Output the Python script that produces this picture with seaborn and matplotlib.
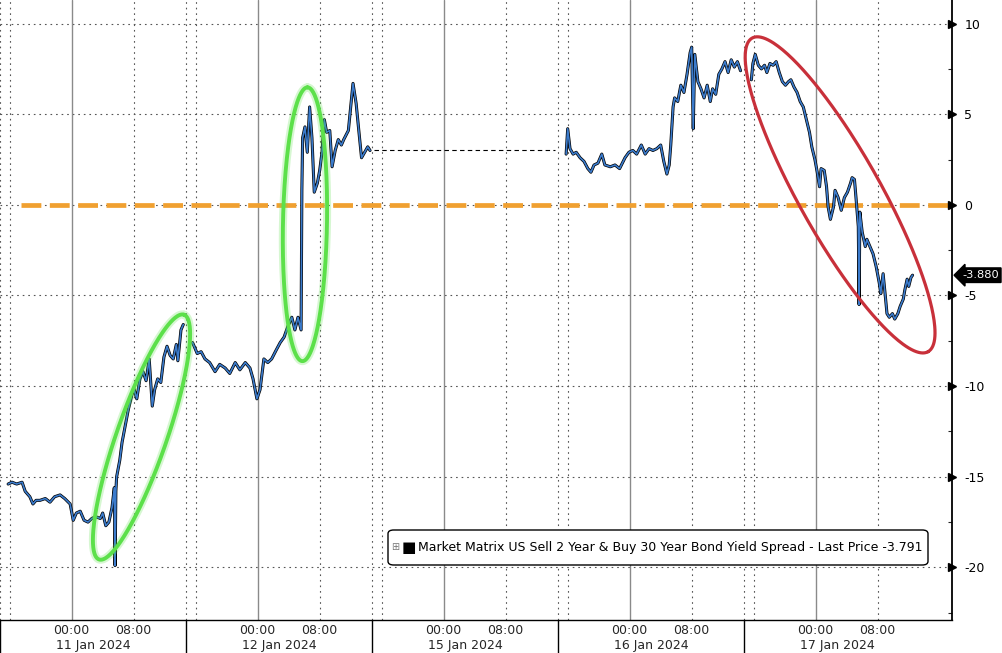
import numpy as np
import pandas as pd
import matplotlib
matplotlib.use("Agg")
import matplotlib.pyplot as plt
from matplotlib.patches import FancyBboxPatch
import seaborn as sns

# trading sessions on a compressed axis, 15 Jan (MLK day) has no prints
sessions = ["11 Jan 2024", "12 Jan 2024", "15 Jan 2024", "16 Jan 2024", "17 Jan 2024"]
SESSION_LEN = 24.0
MIDNIGHT = 9.25  # session opens ~14:45 the evening before

# hours from midnight / spread (bp)
jan11_t = [-8.2, -7.7, -7.1, -6.4, -6.0, -5.4, -5.0, -4.6, -4.1, -3.4, -2.8, -2.2, -1.5, -0.9,
           -0.2, 0.2, 0.6, 1.1, 1.6, 2.1, 2.6, 3.1, 3.7, 4.0, 4.4, 4.8, 5.2, 5.5, 5.6, 5.7,
           5.8, 6.2, 6.5, 6.9, 7.3, 7.7, 8.0, 8.4, 8.8, 9.2, 9.6, 10.0, 10.4, 10.7, 11.1,
           11.5, 11.9, 12.3, 12.7, 13.1, 13.5, 13.7, 14.1, 14.4]
jan11_v = [-15.4, -15.3, -15.4, -15.3, -15.8, -16.1, -16.5, -16.3, -16.3, -16.2, -16.4, -16.1,
           -16.0, -16.2, -16.5, -17.4, -17.0, -16.9, -17.4, -17.5, -17.3, -17.2, -17.3, -17.0,
           -17.7, -17.5, -16.7, -15.6, -19.9, -15.8, -15.0, -14.1, -13.1, -12.2, -11.3, -10.6,
           -10.1, -10.7, -9.6, -9.2, -9.7, -8.5, -11.1, -10.2, -9.6, -9.8, -8.4, -7.8, -8.3,
           -8.5, -7.7, -8.6, -6.9, -6.6]

jan12_t = [-8.4, -7.8, -7.3, -6.8, -6.2, -5.5, -4.9, -4.2, -3.6, -2.9, -2.3, -1.6, -1.0, -0.6,
           -0.1, 0.3, 0.8, 1.3, 1.8, 2.4, 2.9, 3.4, 3.9, 4.4, 4.8, 5.2, 5.6, 5.7, 5.8, 6.1,
           6.4, 6.7, 7.0, 7.3, 7.7, 8.0, 8.3, 8.6, 8.9, 9.3, 9.6, 10.0, 10.4, 10.8, 11.1,
           11.7, 12.0, 12.3, 12.7, 13.0, 13.4, 13.8, 14.2, 14.5]
jan12_v = [-7.6, -8.2, -8.1, -8.5, -8.7, -9.2, -8.8, -9.0, -9.3, -8.7, -9.1, -8.7, -9.0, -9.6,
           -10.7, -10.2, -8.5, -8.7, -8.5, -8.0, -7.6, -7.3, -6.7, -6.2, -6.9, -6.2, -6.9,
           0.8, 3.7, 4.3, 2.9, 5.4, 3.7, 0.7, 1.2, 1.9, 2.9, 4.7, 4.0, 4.1, 2.1, 3.0, 3.6,
           3.3, 3.6, 4.1, 5.4, 6.7, 5.6, 4.3, 2.6, 2.9, 3.2, 3.0]

jan16_t = [-8.2, -8.0, -7.7, -7.3, -6.9, -6.4, -5.9, -5.4, -5.0, -4.6, -4.1, -3.6, -3.2, -2.5,
           -1.9, -1.3, -0.6, -0.1, 0.4, 0.9, 1.5, 2.0, 2.5, 3.0, 3.5, 4.0, 4.4, 4.8, 5.1,
           5.3, 5.6, 5.8, 6.2, 6.6, 7.0, 7.4, 7.8, 8.0, 8.2, 8.4, 8.8, 9.2, 9.6, 10.0, 10.4,
           10.7, 11.1, 11.5, 11.9, 12.3, 12.7, 13.1, 13.5, 13.9, 14.3]
jan16_v = [2.8, 4.2, 3.1, 2.8, 2.9, 2.6, 2.4, 2.0, 1.8, 2.2, 2.3, 2.8, 2.2, 2.1, 2.2, 2.0, 2.6,
           2.9, 3.0, 2.8, 3.3, 2.8, 3.1, 3.0, 3.1, 3.3, 2.4, 1.7, 2.2, 3.3, 5.4, 5.9, 5.7,
           6.6, 6.2, 7.2, 8.4, 8.7, 4.2, 8.3, 6.8, 6.4, 5.9, 6.6, 5.7, 6.4, 6.1, 7.2, 7.5,
           7.9, 7.3, 8.0, 7.6, 7.9, 7.4]

jan17_t = [-8.3, -8.1, -7.8, -7.4, -7.0, -6.6, -6.3, -5.9, -5.5, -5.1, -4.7, -4.3, -3.9, -3.5,
           -3.2, -2.8, -2.4, -2.0, -1.6, -1.2, -0.8, -0.5, -0.1, 0.2, 0.5, 0.7, 1.1, 1.4,
           1.6, 1.9, 2.3, 2.5, 2.9, 3.3, 3.7, 4.1, 4.5, 4.7, 5.0, 5.2, 5.5, 5.6, 5.7, 6.0,
           6.4, 6.6, 7.0, 7.4, 7.8, 8.2, 8.4, 8.7, 9.0, 9.2, 9.5, 9.9, 10.2, 10.6, 10.9,
           11.3, 11.5, 11.8, 12.0, 12.3, 12.5]
jan17_v = [6.9, 7.8, 8.3, 7.7, 7.5, 7.7, 7.3, 7.8, 7.7, 7.9, 7.3, 6.8, 6.6, 6.8, 6.9, 6.5, 6.2,
           5.7, 5.4, 4.7, 4.0, 3.2, 2.5, 1.8, 1.0, 2.0, 1.9, 1.0, -0.1, -0.8, -0.1, 0.8, 0.4,
           -0.3, 0.4, 0.7, 1.2, 1.5, 1.4, 0.4, -1.2, -5.5, -0.4, -1.5, -2.3, -1.9, -2.3,
           -2.7, -3.4, -4.3, -4.9, -3.8, -5.1, -6.0, -6.2, -6.0, -6.3, -6.0, -5.6, -5.2,
           -4.7, -4.1, -4.5, -4.0, -3.88]

legend_label = "Market Matrix US Sell 2 Year & Buy 30 Year Bond Yield Spread - Last Price -3.791"

# highlight rings: centre, two semi-axes (axis hours, bp)
ring_green1 = ((18.26, -12.81), (5.48, 6.75), (3.05, -0.45))
ring_green2 = ((39.35, -1.07), (0.32, 7.55), (2.84, 0.0))
ring_red = ((108.4, 0.55), (11.35, -8.65), (4.6, 1.1))

yticks = [-20, -15, -10, -5, 0, 5, 10]

frames = []
for name, t, v in [("11 Jan 2024", jan11_t, jan11_v), ("12 Jan 2024", jan12_t, jan12_v),
                   ("16 Jan 2024", jan16_t, jan16_v), ("17 Jan 2024", jan17_t, jan17_v)]:
    k = sessions.index(name)
    frames.append(pd.DataFrame({"pos": k * SESSION_LEN + MIDNIGHT + np.asarray(t),
                                "spread": v, "session": name}))
df = pd.concat(frames, ignore_index=True)

sns.set_style("white")
plt.rcParams["font.family"] = ["DejaVu Sans"]

fig = plt.figure(figsize=(10.03, 6.53), dpi=100)
ax = fig.add_axes([0, 33 / 653, 952 / 1003, 620 / 653])

xmax = 952 / 7.75
ax.set_xlim(0, xmax)
ax.set_ylim(-22.9, 11.3)

# grid
for y in yticks:
    ax.axhline(y, color="#555555", lw=0.8, ls=(0, (1.5, 3.5)), zorder=0)
for k in range(len(sessions)):
    base = k * SESSION_LEN
    ax.axvline(base + MIDNIGHT, color="#8a8a8a", lw=1.0, zorder=0)
    for h in (0.0, MIDNIGHT - 8.0, MIDNIGHT + 8.0):
        ax.axvline(base + h, color="#555555", lw=0.8, ls=(0, (1.5, 3.5)), zorder=0)
    ax.axvline(base, ymin=-33 / 620, ymax=0, color="black", lw=1.0, clip_on=False)

# zero line
ax.axhline(0, xmin=0.022, color="#f0a030", lw=3.4, ls=(0, (4.2, 1.8)), zorder=2, clip_on=False)

# gap connector across the holiday
g12 = df[df.session == "12 Jan 2024"]
g16 = df[df.session == "16 Jan 2024"]
ax.plot([g12.pos.iloc[-1] + 0.5, g16.pos.iloc[0] - 1.5], [g12.spread.iloc[-1]] * 2,
        color="black", lw=0.8, ls=(0, (4, 3)), zorder=2)

# series: black body under blue line
sns.lineplot(data=df, x="pos", y="spread", units="session", estimator=None,
             color="black", lw=2.2, ax=ax, zorder=3, legend=False)
sns.lineplot(data=df, x="pos", y="spread", units="session", estimator=None,
             color="#3b7bcc", lw=1.2, ax=ax, zorder=4, legend=False)


def ring(params, color, lw, glow=False):
    (cx, cy), a1, a2 = params
    tt = np.linspace(0, 2 * np.pi, 300)
    xs = cx + a1[0] * np.cos(tt) + a2[0] * np.sin(tt)
    ys = cy + a1[1] * np.cos(tt) + a2[1] * np.sin(tt)
    if glow:
        ax.plot(xs, ys, color=color, lw=lw + 3, alpha=0.25, zorder=5, solid_capstyle="round")
    ax.plot(xs, ys, color=color, lw=lw, zorder=6)


ring(ring_green1, "#5ce04a", 2.8, glow=True)
ring(ring_green2, "#5ce04a", 2.8, glow=True)
ring(ring_red, "#c8303a", 2.3)

# axes styling
ax.set_xlabel("")
ax.set_ylabel("")
for s in ("top", "left"):
    ax.spines[s].set_visible(False)
ax.spines["bottom"].set_color("black")
ax.spines["bottom"].set_linewidth(1.0)
ax.spines["right"].set_color("black")
ax.spines["right"].set_linewidth(1.3)

ax.yaxis.tick_right()
ax.set_yticks(yticks)
ax.set_yticklabels([str(y) for y in yticks])
ax.set_yticks(np.arange(-22.5, 11.3, 2.5), minor=True)
ax.tick_params(axis="y", which="major", length=0, pad=9, labelsize=9, colors="black")
ax.tick_params(axis="y", which="minor", length=3, direction="in", width=0.8)
ax.plot([1.0] * len(yticks), yticks, ls="none", marker=">", ms=6, color="black",
        transform=ax.get_yaxis_transform(), clip_on=False, zorder=7)

major_x, major_lab, minor_x = [], [], []
for k in range(len(sessions)):
    base = k * SESSION_LEN + MIDNIGHT
    major_x += [base, base + 8]
    major_lab += ["00:00", "08:00"]
    minor_x += [base + h for h in (-8, -4, 4, 12)]
ax.set_xticks(major_x)
ax.set_xticklabels(major_lab)
ax.set_xticks(minor_x, minor=True)
ax.tick_params(axis="x", which="major", length=0, labelsize=9, pad=3)
ax.tick_params(axis="x", which="minor", length=5, direction="out", width=0.8)

for k, name in enumerate(sessions):
    ax.annotate(name, xy=(k * SESSION_LEN + MIDNIGHT, 0), xycoords=("data", "axes fraction"),
                xytext=(-16, -26), textcoords="offset pixels", ha="left", va="center", fontsize=9)

# last price tag
last = df.spread.iloc[-1]
ax.annotate(f"{last:.3f}", xy=(1.0, last), xycoords=("axes fraction", "data"),
            xytext=(10, 0), textcoords="offset pixels", ha="left", va="center",
            fontsize=8.2, color="white", annotation_clip=False,
            bbox=dict(boxstyle="larrow,pad=0.2", fc="black", ec="black"))

# legend box
box = FancyBboxPatch((388 / 952, 55 / 620), 540 / 952, 35 / 620,
                     boxstyle="round,pad=0,rounding_size=0.006", transform=ax.transAxes,
                     fc="white", ec="black", lw=1.0, zorder=8)
ax.add_patch(box)
ax.text(391 / 952, 72.5 / 620, "\u229e", transform=ax.transAxes, fontsize=7, color="#777777",
        va="center", ha="left", zorder=9)
ax.text(402 / 952, 72.5 / 620, "\u25a0", transform=ax.transAxes, fontsize=11, color="black",
        va="center", ha="left", zorder=9)
ax.text(418 / 952, 72.5 / 620, legend_label, transform=ax.transAxes, fontsize=9.0,
        color="black", va="center", ha="left", zorder=9)

fig.savefig("out.png", dpi=100)
